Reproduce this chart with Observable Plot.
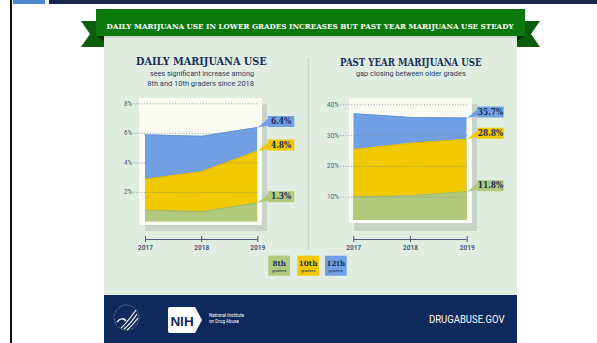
<!DOCTYPE html>
<html><head><meta charset="utf-8">
<script src="https://cdn.jsdelivr.net/npm/d3@7"></script>
<script src="https://cdn.jsdelivr.net/npm/@observablehq/plot@0.6"></script>
<style>
html,body{margin:0;padding:0;background:#fff;}
#page{position:relative;width:597px;height:343px;overflow:hidden;background:#fff;font-family:Roboto,"Noto Sans",sans-serif;}
.abs{position:absolute;}
</style></head><body><div id="page"></div>
<script>
// ---- data ----
const years = [2017, 2018, 2019];
const grades = ["8th", "10th", "12th"];
const gradeColors = ["#b1c97d", "#f2c900", "#70a0e3"];
const gradeLines = ["#9db868", "#dcb400", "#5f8fd3"];
const daily8 = [0.8, 0.7, 1.3];
const daily10 = [2.9, 3.4, 4.8];
const daily12 = [5.9, 5.8, 6.4];
const past8 = [10.1, 10.5, 11.8];
const past10 = [25.5, 27.5, 28.8];
const past12 = [37.1, 35.9, 35.7];
const dailyTicks = [2, 4, 6, 8];
const pastTicks = [10, 20, 30, 40];
const bannerText = "DAILY MARIJUANA USE IN LOWER GRADES INCREASES BUT PAST YEAR MARIJUANA USE STEADY";
const leftTitle = "DAILY MARIJUANA USE";
const leftSub = ["sees significant increase among", "8th and 10th graders since 2018"];
const rightTitle = "PAST YEAR MARIJUANA USE";
const rightSub = ["gap closing between older grades"];

function table(s8, s10, s12) {
  const s = [s8, s10, s12];
  return years.flatMap((year, i) => grades.map((grade, g) => ({year, grade, value: s[g][i]})));
}
const dailyData = table(daily8, daily10, daily12);
const pastData = table(past8, past10, past12);

const page = document.getElementById("page");
const NS = "http://www.w3.org/2000/svg";
const navy = "#1b2f5e";
const axisCol = "#4a5a78";

// ---- decorative background (svg) ----
const bg = document.createElementNS(NS, "svg");
bg.setAttribute("width", 597); bg.setAttribute("height", 343);
bg.setAttribute("class", "abs"); bg.style.left = "0px"; bg.style.top = "0px";
bg.innerHTML = `
<rect x="10" y="0" width="2" height="343" fill="#111"/>
<rect x="13" y="0" width="32" height="4" fill="#4b87d1"/>
<rect x="49" y="0" width="548" height="4" fill="#13284a"/>
<rect x="104" y="36" width="413" height="259" fill="#e0ede1"/>
<rect x="104" y="36" width="413" height="2" fill="#c9d6cb"/>
<polygon points="81,21 104,21 104,47 81,47 90,34" fill="#0b5c0b"/>
<polygon points="540,21 517,21 517,47 540,47 531,34" fill="#0b5c0b"/>
<polygon points="96,36 104,36 104,41" fill="#0a2a0a"/>
<polygon points="525,36 517,36 517,41" fill="#0a2a0a"/>
<rect x="96" y="9" width="429" height="27" fill="#0a780a"/>
<text x="106.6" y="29.4" textLength="407" lengthAdjust="spacingAndGlyphs" font-family="'DejaVu Serif Condensed','DejaVu Serif'" font-weight="bold" font-size="8.2" fill="#fff">${bannerText}</text>
<line x1="308.3" y1="58" x2="308.3" y2="250" stroke="#c3cec6" stroke-width="1"/>
<text x="136" y="65" textLength="130.7" lengthAdjust="spacingAndGlyphs" font-family="'DejaVu Serif'" font-weight="bold" font-size="10.5" fill="${navy}">${leftTitle}</text>
<text x="150" y="76.3" textLength="104" lengthAdjust="spacingAndGlyphs" font-family="Roboto" font-size="7.6" fill="#2a3d66">${leftSub[0]}</text>
<text x="147.3" y="85.6" textLength="106.7" lengthAdjust="spacingAndGlyphs" font-family="Roboto" font-size="7.6" fill="#2a3d66">${leftSub[1]}</text>
<text x="340" y="65.5" textLength="141.7" lengthAdjust="spacingAndGlyphs" font-family="'DejaVu Serif'" font-weight="bold" font-size="10.5" fill="${navy}">${rightTitle}</text>
<text x="356" y="76" textLength="109.7" lengthAdjust="spacingAndGlyphs" font-family="Roboto" font-size="7.6" fill="#2a3d66">${rightSub[0]}</text>
<rect x="145" y="104" width="122" height="127" fill="#c8d3c9"/>
<rect x="139" y="98" width="123" height="127" fill="#f9fbf3"/>
<rect x="354" y="104" width="123" height="127" fill="#c8d3c9"/>
<rect x="349" y="98" width="123" height="125" fill="#f9fbf3"/>
<rect x="104" y="295" width="413" height="48" fill="#0e295b"/>
<g fill="none" stroke="#fff">
  <circle cx="126.5" cy="317.5" r="12.5" stroke-width="0.5" stroke-dasharray="0.8,0.6" opacity="0.8"/>
  <path d="M121,328 C126,324 130,318 136,310" stroke-width="1.2"/>
  <path d="M124,329 C129,325 133,320 137,314" stroke-width="1.2"/>
  <path d="M127,330 C131,327 134,323 138,318" stroke-width="1.2"/>
  <path d="M117,322 C120,318 124,318 126,321" stroke-width="1.5"/>
</g>
<path d="M170,307 H195 L202,320 L195,333 H170 Q168,333 168,331 V309 Q168,307 170,307 Z" fill="#fff"/>
<text x="182" y="325.5" text-anchor="middle" font-family="'Liberation Sans'" font-weight="bold" font-size="13.5" fill="#0e295b">NIH</text>
<path d="M196.5,307 L203.5,320 L196.5,333" fill="none" stroke="#0e295b" stroke-width="1"/>
<text x="209" y="317" font-family="Roboto" font-size="4.6" fill="#fff">National Institute</text>
<text x="209" y="322.5" font-family="Roboto" font-size="4.6" fill="#fff">on Drug Abuse</text>
<text x="429" y="323" textLength="75.5" lengthAdjust="spacingAndGlyphs" font-family="Roboto" font-size="10" fill="#fff">DRUGABUSE.GOV</text>
`;
// legend
const legendX = [268.3, 297.3, 325];
grades.forEach((g, i) => {
  bg.insertAdjacentHTML("beforeend",
    `<rect x="${legendX[i]}" y="255.7" width="21.7" height="20" fill="${gradeColors[i]}"/>
     <text x="${legendX[i] + 10.85}" y="266.3" text-anchor="middle" font-family="'DejaVu Serif'" font-weight="bold" font-size="7.2" fill="${navy}">${g}</text>
     <text x="${legendX[i] + 10.85}" y="272.3" text-anchor="middle" font-family="Roboto" font-size="4.3" fill="${navy}">graders</text>`);
});
page.appendChild(bg);

// ---- callout shape ----
const calloutSymbol = {
  draw(ctx) {
    ctx.moveTo(0, 0); ctx.lineTo(10.5, -9); ctx.lineTo(10.5, -2); ctx.closePath();
    ctx.moveTo(10, -11.5); ctx.lineTo(36.5, -11.5); ctx.lineTo(36.5, -0.5); ctx.lineTo(10, -0.5); ctx.closePath();
  }
};

function chart({data, ticks, yDomain, yRange, left, mL, mR, mT, mB, tickDy, ruleDy, gridInset, labelPad}) {
  const last = data.filter(d => d.year === years[years.length - 1]);
  const marks = [];
  [...grades].reverse().forEach(g => {
    marks.push(Plot.areaY(data, {filter: d => d.grade === g, x: "year", y1: 0, y2: "value", fill: "grade", clip: true}));
    marks.push(Plot.lineY(data, {filter: d => d.grade === g, x: "year", y: "value", stroke: gradeLines[grades.indexOf(g)], strokeWidth: 0.8, clip: true}));
  });
  marks.push(Plot.gridY(ticks, {stroke: "#7c8aa0", strokeOpacity: 1, strokeWidth: 0.8, strokeDasharray: "1,1.8", insetLeft: gridInset}));
  marks.push(Plot.axisY(ticks, {label: null, tickSize: 0, tickPadding: labelPad, tickFormat: d => d + "%", fontSize: 6.3, fill: axisCol}));
  marks.push(Plot.ruleY([0], {x1: years[0], x2: years[years.length - 1], dy: ruleDy, stroke: axisCol, strokeWidth: 1}));
  marks.push(Plot.axisX(years, {label: null, tickSize: 6, tickPadding: 3, dy: tickDy, tickFormat: d => String(d), fontSize: 6.5, fontWeight: "bold", fill: axisCol, stroke: axisCol}));
  marks.push(Plot.dot(last, {x: "year", y: "value", symbol: calloutSymbol, fill: "grade", r: 3, stroke: null}));
  marks.push(Plot.text(last, {x: "year", y: "value", text: d => d.value.toFixed(1) + "%", dx: 23.3, dy: -6, fill: navy, fontWeight: "bold", fontSize: 8.4, fontFamily: "'DejaVu Serif Condensed','DejaVu Serif',serif"}));
  const svg = Plot.plot({
    width: 210, height: 170,
    marginLeft: mL, marginRight: mR, marginTop: mT, marginBottom: mB,
    x: {domain: [years[0], years[years.length - 1]], label: null},
    y: {domain: yDomain, range: yRange, label: null},
    color: {domain: grades, range: gradeColors},
    style: {background: "transparent", fontFamily: "Roboto", overflow: "visible"},
    marks
  });
  svg.classList.add("abs");
  svg.style.left = left + "px";
  svg.style.top = "90px";
  page.appendChild(svg);
}

chart({data: dailyData, ticks: dailyTicks, yDomain: [0, 8], yRange: [131.5, 13.3], left: 100,
  mL: 45, mR: 52.7, mT: 13.3, mB: 38.5, tickDy: 14.5, ruleDy: 17.5, gridInset: -12, labelPad: 13.3});
chart({data: pastData, ticks: pastTicks, yDomain: [0, 40], yRange: [137.5, 14.3], left: 310,
  mL: 43.3, mR: 53.3, mT: 14.3, mB: 40, tickDy: 16, ruleDy: 11.5, gridInset: -13.3, labelPad: 15});
</script></body></html>
